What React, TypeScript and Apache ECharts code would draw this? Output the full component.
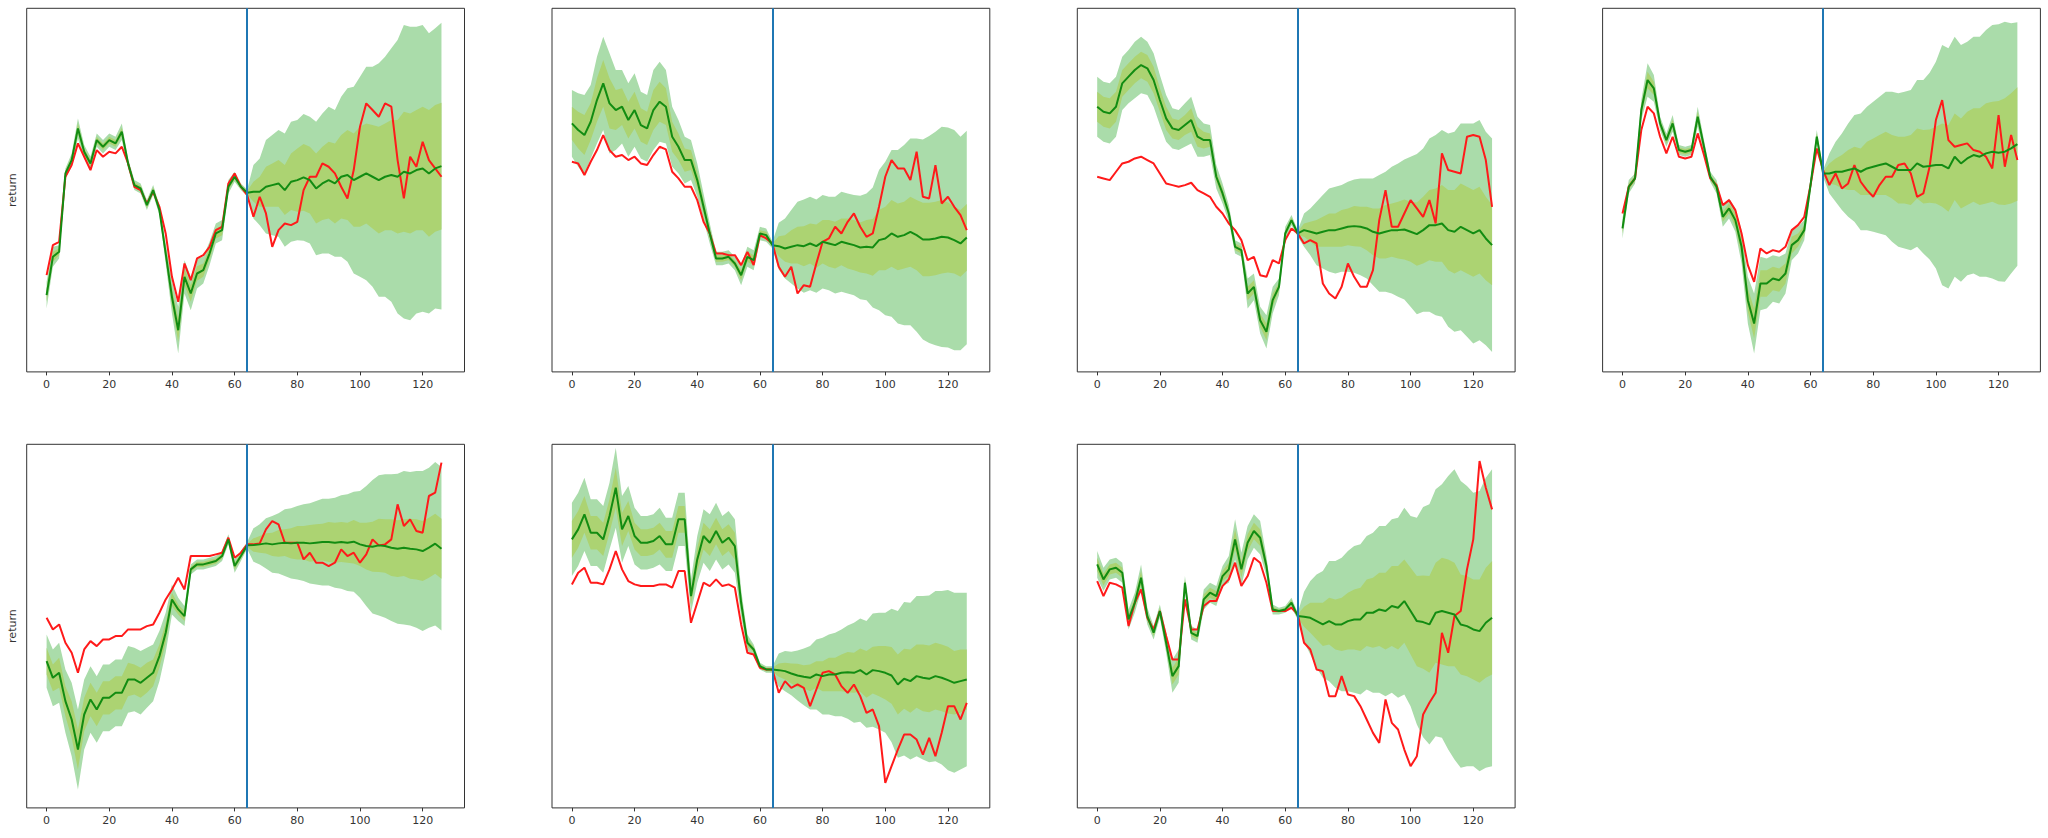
import React, { useEffect, useRef } from "react";
import * as echarts from "echarts";

// time steps (every second step of 0..127) and tick labels
const steps = Array.from({ length: 64 }, (_, k) => k * 2);
const xTicks = [0, 20, 40, 60, 80, 100, 120];
const splitStep = 64;

// panel 1
const red1 = [29, 38, 39, 58.5, 62, 68.5, 64.5, 60.5, 66.5, 64.5, 66, 65.5, 67.5, 62.5, 55.5, 54.5, 50.5, 54, 49.5, 41.5, 28.5, 21, 32.5, 27.5, 34, 35, 37.5, 42.5, 43.5, 56.5, 59.5, 55.5, 53,
  46.5, 52.5, 47.5, 37.5, 42.5, 44.5, 44, 45, 54.5, 58.5, 58.5, 62.5, 61.5, 59.5, 55.5, 52, 60.5, 73.5, 80.5, 78.5, 76.5, 80.5, 79.5, 63.5, 52, 64.5, 61.5, 69, 63.5, 61, 58.5];
const green1 = [23, 34.5, 36, 59.5, 63.5, 73, 66, 62.5, 69.5, 67.5, 69.5, 68.5, 72, 62.5, 56, 55, 50, 54.5, 48.5, 35.5, 22.5, 12.5, 28.5, 23.5, 29.5, 30.5, 35.5, 41.5, 42.5, 55.5, 58.5, 55.5, 53.7,
  54, 54, 55.5, 56, 56.5, 54.5, 57, 57.5, 58.3, 57.5, 55, 56.5, 57.5, 56.5, 58.5, 59, 57.5, 58.5, 59.5, 58.5, 57.5, 58.5, 59, 58.5, 60, 59.5, 60.5, 61, 59.5, 61, 61.7];
const outer1 = [4, 3, 2, 1.5, 2, 3, 2, 2, 2, 2, 2, 2, 2.5, 1.5, 1.5, 1.5, 1.5, 1.5, 1.5, 3, 5, 7, 5, 5, 4.5, 4, 3.5, 3, 3, 2, 1.5, 1, 1,
  8, 10, 14, 15, 16, 17, 18, 18, 19, 19, 20, 21, 22, 22, 24, 26, 28, 30, 32, 33, 35, 36, 38, 41, 44, 44, 43, 43, 42, 42, 43];
const inner1 = [2, 1.5, 1, 0.8, 1, 1.5, 1, 1, 1, 1, 1, 1, 1.2, 0.8, 0.8, 0.8, 0.8, 0.8, 0.8, 1.5, 2.5, 3.5, 2.5, 2.5, 2.2, 2, 1.8, 1.5, 1.5, 1, 0.8, 0.5, 0.5,
  3, 4.5, 6, 6.5, 7, 7.5, 8.5, 9.5, 10, 10, 10.5, 11, 11.5, 12, 12.5, 13.5, 14, 15, 15, 15.5, 16, 16, 16.5, 17, 18, 18, 18, 18.5, 19, 19, 19];

// panel 2
const red2 = [63, 62.5, 59, 63, 66.5, 71, 66.5, 64.5, 65, 63.5, 64.5, 62.5, 62, 65, 67.5, 66.7, 60, 58, 55.5, 55.5, 51.5, 45, 41.5, 35.5, 35.5, 35, 35, 32, 36, 32, 41, 40, 38.5,
  31.5, 28.5, 31.5, 23.5, 26, 25.5, 32.5, 39, 40, 43.5, 41.5, 45, 47.5, 43.5, 40.5, 41.5, 49.5, 58.5, 63.5, 61, 61, 57.5, 66, 52.5, 52, 62, 50.5, 52.5, 49.5, 47, 42.5];
const green2 = [74.5, 72.5, 71, 75, 81.5, 86.5, 80.5, 78.5, 79.5, 75.5, 78.5, 74, 73, 78.5, 81, 79.5, 70.5, 67.5, 63.5, 63.5, 57.5, 49.5, 41.5, 34, 34, 34.5, 32.5, 29, 34.5, 33.5, 41.5, 41, 38,
  37.7, 37, 37.5, 38, 37.7, 38.5, 37.7, 39, 38.5, 38, 39, 38.5, 38, 37.3, 37.5, 37.3, 39.5, 40, 41.5, 40.5, 41, 42, 41, 39.7, 39.7, 40, 40.5, 40.3, 39.5, 38.5, 40.3];
const outer2 = [10, 11, 12, 11, 13, 14, 15, 12, 11, 11, 11, 10, 10, 12, 12, 11, 9, 8, 7, 6, 5, 4, 3, 2, 2, 2, 2, 3, 3, 3, 2, 2, 1,
  7, 9, 11, 13, 14, 14, 14, 14, 14, 14.5, 15, 15, 15, 15.5, 16, 18, 21, 23, 25, 26, 27, 28, 29, 30, 31, 32, 33, 33, 33, 32, 32];
const inner2 = [5, 5.5, 6, 5.5, 6.5, 7, 7.5, 6, 5.5, 5.5, 5.5, 5, 5, 6, 6, 5.5, 4.5, 4, 3.5, 3, 2.5, 2, 1.5, 1, 1, 1, 1, 1.5, 1.5, 1.5, 1, 1, 0.5,
  3, 4, 5, 5.5, 6, 6, 6.5, 6.5, 7, 7, 7, 7.5, 7.5, 7.5, 8, 8.5, 9, 9.5, 10, 10, 10, 10.5, 10.5, 11, 11, 11, 11, 10.5, 10, 10, 10];

// panel 3
const red3 = [58.5, 58, 57.5, 60, 62.5, 63, 64, 64.5, 63.5, 62.5, 59.5, 56.5, 56, 55.5, 56, 56.7, 54.5, 53.5, 52.5, 49.5, 47.5, 44.5, 42.5, 39.5, 33.5, 34.5, 29, 28.5, 33.5, 32.5, 39.5, 43, 41.5,
  38.5, 39.5, 38.5, 26.5, 23.5, 22, 25.5, 32.5, 28.5, 25.5, 25.5, 30.5, 45.5, 54.5, 43.5, 43.5, 47.5, 51.5, 49, 46.5, 51.5, 44.5, 65.5, 60.5, 60, 59.5, 70.5, 71, 70.5, 63.5, 49.5];
const green3 = [79.5, 78, 77.5, 79.5, 86.5, 88.5, 90.5, 92, 91, 87.5, 81.5, 76, 73, 72.5, 74, 75.5, 70.5, 69.5, 69.5, 58.5, 53.5, 47.5, 37.5, 36.5, 23.5, 25.5, 15.5, 12, 21.5, 25.5, 41.5, 45.5, 41.5,
  42.5, 42, 41.5, 42, 42.5, 42.5, 43, 43.5, 43.7, 43.5, 43, 42, 41.5, 42, 42.5, 42.5, 42.7, 42, 41.3, 42.5, 44, 44, 44.5, 42.5, 42, 43.5, 42.5, 41.5, 42.5, 40, 38];
const outer3 = [9, 9, 9, 9, 8, 8, 8.5, 8.5, 8, 8, 7.5, 7, 6, 6, 6.5, 7, 6, 5, 4.5, 3.5, 3, 2.5, 2, 2, 4.5, 4, 4, 5, 4, 2.5, 2, 1.5, 1,
  5, 7, 9.5, 11, 12.5, 13, 13, 13.5, 14, 14.5, 15, 16, 17.5, 18, 19, 20, 21, 22.5, 24, 24.5, 26, 27, 28, 29, 30, 31, 32, 33, 33, 32, 32];
const inner3 = [4.5, 4.5, 4.5, 4.5, 4, 4, 4, 4, 4, 4, 3.5, 3.5, 3, 3, 3, 3.5, 3, 2.5, 2, 1.5, 1.5, 1.2, 1, 1, 2, 2, 2, 2.5, 2, 1.2, 1, 0.8, 0.5,
  2, 3, 4, 4.5, 5, 5, 5.5, 5.5, 6, 6, 6.5, 7, 7.5, 8, 8, 8.5, 9, 9, 9.5, 10, 10.5, 11, 11.5, 12, 12.5, 13, 13, 13, 13, 12.5, 12];

// panel 4
const red4 = [47.5, 55.5, 58, 72.5, 79.5, 77.5, 70.5, 65.5, 70.5, 64.5, 64, 64.5, 71.5, 65, 58, 56, 50, 51.5, 48.5, 41.5, 32, 27, 37, 35.5, 36.5, 36, 37.5, 42.5, 44, 46.5, 56, 67, 60.5,
  56, 59.5, 55, 56.5, 62, 57, 54.5, 52.5, 56, 58.5, 58.5, 62, 62.5, 59.5, 52.5, 53.5, 61.5, 75.5, 81.5, 69.5, 67.5, 68, 68.5, 66.5, 66, 64.5, 61, 77, 61.5, 71, 63.5];
const green4 = [43, 55.5, 58, 78.5, 87.5, 85, 74.5, 69.5, 74.5, 66.5, 66, 66.5, 76.5, 67.5, 58.5, 55.5, 46.5, 49, 45.5, 37.5, 21.5, 14.5, 26.5, 26.5, 28, 27.5, 29.5, 38, 39.5, 42.5, 56, 70.5, 59.5,
  59.5, 60, 60, 60.5, 61, 60, 61, 61.5, 62, 62.5, 61.5, 60.5, 60.5, 60.5, 62.5, 61.5, 61.7, 62, 62, 61, 64.5, 62.5, 64, 65, 64.5, 65.5, 66, 65.7, 66, 67, 68.3];
const outer4 = [3, 2, 1.5, 3, 5, 4, 2, 2, 2.5, 1.5, 1.5, 1.5, 3, 2, 1.5, 2, 3, 3, 3.5, 5, 7, 9, 8, 7.5, 7, 7, 6, 4.5, 4, 3, 2, 2, 1,
  6, 9, 11.5, 14, 16, 17.5, 18.5, 19.5, 20.5, 21.5, 22.5, 23, 23.5, 24, 25, 26, 28, 31, 36, 36, 36, 35.5, 35, 35.5, 36, 37, 38, 38.5, 39, 37.5, 36.5];
const inner4 = [1.5, 1, 0.8, 1.5, 2.5, 2, 1, 1, 1.2, 0.8, 0.8, 0.8, 1.5, 1, 0.8, 1, 1.5, 1.5, 2, 2.5, 3.5, 4.5, 4, 4, 3.5, 3.5, 3, 2.5, 2, 1.5, 1, 1, 0.5,
  3, 4, 5, 6, 6.5, 7, 8, 8.5, 9, 9.5, 9.5, 10, 10, 10.5, 10.5, 11, 11, 11.5, 12.5, 13, 13, 13.5, 14, 14, 14.5, 15, 15, 15.5, 16, 16.5, 17];

// panel 5
const red5 = [57, 53.5, 55, 49.5, 46.5, 40.5, 47.5, 50, 48.5, 50.5, 50.5, 51.5, 51.5, 53.5, 53.5, 53.5, 54.5, 55, 58.5, 62.5, 65.5, 69, 65.5, 75.5, 75.5, 75.5, 75.5, 76, 76.5, 81, 75, 76.5, 79,
  79, 79.3, 83.5, 86, 85, 79.5, 79.5, 79.5, 74.5, 76.5, 73.5, 73.5, 72.5, 73.5, 77.5, 75.5, 76.5, 73.5, 76, 80.5, 78.7, 79, 80.5, 91, 84.5, 86.5, 83, 82.5, 93.5, 94.5, 103.5];
const green5 = [44, 39, 40.5, 32, 26.5, 17.5, 28, 32.5, 29.5, 33, 33, 34.5, 34.5, 38.5, 38.5, 37.5, 39, 40.5, 45.5, 52.5, 62.5, 59.5, 57.5, 71.5, 73, 73, 73.5, 74, 75.5, 80.5, 72.5, 75.5, 78.7,
  78.8, 79, 79.3, 79, 79.3, 79.5, 79.3, 79.5, 79.5, 79.3, 79.5, 79.7, 79.7, 79.5, 79.7, 79.5, 79.8, 79, 78.5, 78.3, 78.7, 78.5, 78, 77.7, 78, 77.7, 77.5, 77, 78, 79.2, 77.7];
const outer5 = [8, 8.5, 9, 9.5, 11, 12, 10.5, 10, 10, 10, 10, 10, 10, 10, 9.5, 9.5, 9, 8.5, 7.5, 6, 4.5, 3.5, 3, 1.5, 1.5, 1.5, 1.5, 1.5, 1.5, 1.5, 2, 1.5, 1,
  5, 6, 7.5, 8.5, 9, 10, 10.5, 11, 11.5, 12, 12.5, 13, 13, 13.5, 14, 14.5, 15, 16, 18, 20, 21, 21.5, 22, 22.5, 23, 23, 23.5, 24, 24, 24.5, 24.5];
const inner5 = [4, 4, 4.5, 4.5, 5.5, 6, 5, 5, 5, 5, 5, 5, 5, 5, 4.5, 4.5, 4.5, 4, 3.5, 3, 2, 1.5, 1.5, 0.8, 0.8, 0.8, 0.8, 0.8, 0.8, 0.8, 1, 0.8, 0.5,
  2, 2.5, 3, 3.5, 4, 4, 4.5, 5, 5, 5.5, 5.5, 5.5, 6, 6, 6, 6, 6.5, 6.5, 7, 7.5, 8, 8, 8.5, 8.5, 8.5, 9, 9, 9, 9, 9, 9];

// panel 6
const red6 = [67, 70.5, 72, 67.5, 67.5, 67, 71.5, 77, 71.5, 68, 67, 66.5, 66.5, 66.5, 67, 67, 66, 71, 71, 55.5, 61.5, 67.5, 66.5, 68.5, 66.5, 67, 66, 55, 46.5, 46, 42, 41.5, 41.5,
  34.5, 38, 36, 37, 36, 30.5, 35.5, 40.5, 41, 40, 36.5, 34.5, 37, 33.5, 28.5, 29.5, 24.5, 7.5, 12.5, 17.5, 22, 22, 20.5, 16, 21, 15.5, 22.5, 30.5, 30.5, 26.5, 31.5];
const green6 = [80.5, 83.5, 88, 82.5, 82.5, 80.5, 87.5, 96, 83.5, 87.5, 81.5, 79.5, 79.5, 80, 81.5, 79, 79, 86.5, 86.5, 63.5, 74.5, 81.5, 79.5, 83, 79.5, 81, 78.5, 61.5, 49.5, 47.5, 42.5, 41.5, 41.5,
  41.3, 41, 40.3, 39.7, 39.3, 39, 40, 39.5, 40, 40, 40.5, 40.7, 40.5, 41.3, 40, 41.3, 41, 40.5, 39.7, 37, 38.7, 38, 39.5, 39, 38.7, 39.5, 39, 38.3, 37.5, 38, 38.5];
const outer6 = [11, 11, 11, 10, 10, 10, 10, 12, 10, 9, 8.5, 8, 8, 8, 8.5, 8, 8, 8, 8, 5, 7, 8, 8.5, 8.5, 8, 8, 8, 4, 2.5, 1.5, 1, 1, 1,
  5, 6, 6.5, 7.5, 8.5, 9.5, 10.5, 11.5, 12, 12.5, 13, 14, 15, 15.5, 16, 17, 17.5, 18, 20, 22, 23, 23.5, 24, 24.5, 25, 25.5, 26, 27, 27, 26.5, 26];
const inner6 = [5.5, 5.5, 5.5, 5, 5, 5, 5, 6, 5, 4.5, 4, 4, 4, 4, 4, 4, 4, 4, 4, 2.5, 3.5, 4, 4, 4, 4, 4, 4, 2, 1.2, 0.8, 0.5, 0.5, 0.5,
  2, 2.5, 3, 3.5, 3.5, 4, 4, 4.5, 5, 5, 5.5, 6, 6, 6.5, 7, 7, 7.5, 8, 8.5, 9, 9, 9.5, 9.5, 10, 10, 10, 10, 10, 9.5, 9.5, 9];

// panel 7
const red7 = [68, 63.5, 67.5, 67, 66, 54.5, 61.5, 65.5, 57, 53.5, 59, 51.5, 44.5, 44.5, 62.5, 53.5, 53.5, 60.5, 62, 62, 66.5, 68.5, 73.5, 66.5, 69.5, 75, 73.5, 67.5, 59, 59, 59, 60, 58,
  49.5, 47.5, 41.5, 41, 33.5, 33.5, 39.5, 34, 33.5, 30.5, 26.5, 22.5, 19.5, 32.5, 25.5, 23.5, 17.5, 12.5, 15.5, 28, 31.5, 34.5, 52.5, 46.5, 57.5, 59, 71.5, 80.5, 104, 96, 89.5];
const green7 = [73, 68.5, 71.5, 72, 70.5, 56.5, 61.5, 69, 57.5, 52.5, 59, 49.5, 39.5, 42.5, 67.5, 52.5, 51.5, 62.5, 64.5, 63.5, 69.5, 71.5, 80.5, 71.5, 79.5, 83, 81, 72.5, 59.5, 59, 59.5, 61.5, 57.5,
  57.3, 57, 56, 55, 56, 55, 55, 56, 56.5, 56.5, 58.5, 58.5, 59.5, 59, 60.5, 60, 62, 59, 56, 55.7, 55, 58.5, 59, 58.5, 58, 55, 54.5, 53.5, 53, 55.5, 57];
const outer7 = [4, 3.5, 3, 3, 3, 3, 3, 4, 2.5, 2, 2, 3, 5, 5, 2, 2, 2, 3, 3, 3, 3, 4, 6, 5, 5, 5, 5, 3, 1.5, 1, 1, 1.5, 1,
  7.5, 11, 14, 16, 18, 19, 20, 21, 22, 22.5, 23, 24, 25, 25.5, 26, 27, 28, 28.5, 31, 34.5, 36, 37, 38, 41, 43.5, 43, 42, 41, 42, 43.5, 44.5];
const inner7 = [2, 1.8, 1.5, 1.5, 1.5, 1.5, 1.5, 2, 1.2, 1, 1, 1.5, 2.5, 2.5, 1, 1, 1, 1.5, 1.5, 1.5, 1.5, 2, 3, 2.5, 2.5, 2.5, 2.5, 1.5, 0.8, 0.5, 0.5, 0.8, 0.5,
  3, 4.5, 5.5, 6.5, 7, 7.5, 8, 8.5, 9, 9.5, 10, 10.5, 11, 11.5, 12, 12.5, 12.5, 13, 13.5, 14, 14.5, 15, 16, 16, 15.5, 15, 15, 15, 15.5, 16.5, 17];

const panels = [
  { red: red1, green: green1, outer: outer1, inner: inner1 },
  { red: red2, green: green2, outer: outer2, inner: inner2 },
  { red: red3, green: green3, outer: outer3, inner: inner3 },
  { red: red4, green: green4, outer: outer4, inner: inner4 },
  { red: red5, green: green5, outer: outer5, inner: inner5 },
  { red: red6, green: green6, outer: outer6, inner: inner6 },
  { red: red7, green: green7, outer: outer7, inner: inner7 },
];

const RED = "#ff1a1a";
const GREEN = "#128c12";
const OUTER = "#aadcaa";
const INNER = "#acd372";
const VLINE = "#1f77b4";
const INK = "#333333";
const FONT = "DejaVu Sans";

// grid placement (px)
const colLeft = [26.7, 552, 1077.3, 1602.6];
const rowTop = [8.3, 444.3];
const boxW = 437.8;
const boxH = 363.6;

// band drawn as one polygon from rows [x, low, high]
const bandRenderer = (color: string) => (params: any, api: any) => {
  if (params.dataIndexInside !== 0) return null;
  const upper: number[][] = [];
  const lower: number[][] = [];
  for (let k = 0; k < params.dataInsideLength; k++) {
    const x = api.value(0, k);
    upper.push(api.coord([x, api.value(2, k)]));
    lower.push(api.coord([x, api.value(1, k)]));
  }
  return {
    type: "polygon",
    shape: { points: upper.concat(lower.reverse()) },
    style: { fill: color, stroke: "none" },
    silent: true,
  };
};

const App: React.FC = () => {
  const chartRef = useRef<HTMLDivElement>(null);

  useEffect(() => {
    const chart = echarts.init(chartRef.current, undefined, { renderer: "svg" });

    const grid: any[] = [];
    const xAxis: any[] = [];
    const yAxis: any[] = [];
    const series: any[] = [];

    panels.forEach((p, i) => {
      const col = i % 4;
      const row = Math.floor(i / 4);
      grid.push({
        left: colLeft[col],
        top: rowTop[row],
        width: boxW,
        height: boxH,
        show: true,
        borderColor: INK,
        borderWidth: 1,
        backgroundColor: "transparent",
      });
      xAxis.push({
        type: "value",
        gridIndex: i,
        min: -6.35,
        max: 133.35,
        axisLine: { show: false },
        splitLine: { show: false },
        axisTick: { show: true, length: 3.5, lineStyle: { color: INK }, customValues: xTicks },
        axisLabel: { color: INK, fontSize: 11, fontFamily: FONT, margin: 7, customValues: xTicks },
      });
      yAxis.push({
        type: "value",
        gridIndex: i,
        min: 0,
        max: 109,
        axisLine: { show: false },
        axisTick: { show: false },
        axisLabel: { show: false },
        splitLine: { show: false },
        name: col === 0 ? "return" : "",
        nameLocation: "middle",
        nameGap: 9,
        nameTextStyle: { color: INK, fontSize: 11, fontFamily: FONT },
      });

      const axes = { xAxisIndex: i, yAxisIndex: i };
      series.push(
        {
          type: "custom",
          ...axes,
          coordinateSystem: "cartesian2d",
          z: 1,
          silent: true,
          encode: { x: 0, y: [1, 2] },
          data: p.green.map((g, k) => [steps[k], g - p.outer[k], g + p.outer[k]]),
          renderItem: bandRenderer(OUTER),
        },
        {
          type: "custom",
          ...axes,
          coordinateSystem: "cartesian2d",
          z: 1,
          silent: true,
          encode: { x: 0, y: [1, 2] },
          data: p.green.map((g, k) => [steps[k], g - p.inner[k], g + p.inner[k]]),
          renderItem: bandRenderer(INNER),
        },
        {
          type: "line",
          ...axes,
          z: 3,
          symbol: "none",
          silent: true,
          data: p.red.map((v, k) => [steps[k], v]),
          lineStyle: { color: RED, width: 2 },
        },
        {
          type: "line",
          ...axes,
          z: 4,
          symbol: "none",
          silent: true,
          data: p.green.map((v, k) => [steps[k], v]),
          lineStyle: { color: GREEN, width: 2 },
          markLine: {
            silent: true,
            symbol: ["none", "none"],
            label: { show: false },
            lineStyle: { color: VLINE, width: 2, type: "solid" },
            data: [{ xAxis: splitStep }],
          },
        }
      );
    });

    chart.setOption({
      animation: false,
      backgroundColor: "#ffffff",
      grid,
      xAxis,
      yAxis,
      series,
    });

    const onResize = () => chart.resize();
    window.addEventListener("resize", onResize);
    return () => {
      window.removeEventListener("resize", onResize);
      chart.dispose();
    };
  }, []);

  return (
    <div
      ref={chartRef}
      style={{ position: "absolute", left: 0, top: 0, width: 2048, height: 838 }}
    />
  );
};

export default App;
